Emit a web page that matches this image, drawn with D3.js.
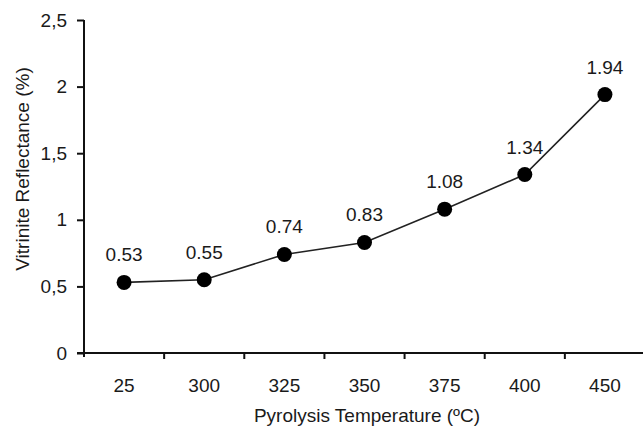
<!DOCTYPE html>
<html>
<head>
    <meta charset="utf-8" />
    <title>Vitrinite Reflectance</title>
    <style>
        body { margin: 0; background: #fff; }
        text { font-family: "Liberation Sans", Arial, sans-serif; fill: #1a1a1a; }
        .axis path, .axis line { stroke: #111; stroke-width: 2px; }
        .axis text { font-size: 19px; }
        .title { font-size: 19px; }
        .vlabel { font-size: 19px; }
    </style>
    <script src="https://cdn.jsdelivr.net/npm/d3@7/dist/d3.min.js"></script>
</head>
<body>
    <svg width="643" height="432"></svg>

    <script>
        var temps = ['25', '300', '325', '350', '375', '400', '450'];
        var reflectance = [0.53, 0.55, 0.74, 0.83, 1.08, 1.34, 1.94];
        var yTicks = [0, 0.5, 1, 1.5, 2, 2.5];

        var svg = d3.select('svg'),
            margin = { top: 20, right: -2, bottom: 79, left: 84 },
            width = +svg.attr('width') - margin.left - margin.right,
            height = +svg.attr('height') - margin.top - margin.bottom;

        var x = d3.scaleBand()
            .domain(temps)
            .range([0, width]);

        var y = d3.scaleLinear()
            .domain([0, 2.5])
            .range([height, 0]);

        var g = svg.append('g')
            .attr('transform', 'translate(' + margin.left + ',' + margin.top + ')');

        // y axis
        g.append('g')
            .attr('class', 'axis')
            .call(d3.axisLeft(y).tickValues(yTicks).tickSize(7).tickPadding(10)
                .tickFormat(function(d) { return String(d).replace('.', ','); }))
            .call(function(a) { a.select('.domain').attr('d', 'M0,' + (height + 4) + 'V0'); });

        // x axis: ticks sit between the categories
        var xAxis = g.append('g')
            .attr('class', 'axis')
            .attr('transform', 'translate(0,' + height + ')');
        xAxis.append('line')
            .attr('x1', -7).attr('x2', width);
        xAxis.selectAll('.sep')
            .data(temps.slice(1))
            .enter().append('line')
                .attr('class', 'sep')
                .attr('x1', function(d) { return x(d); })
                .attr('x2', function(d) { return x(d); })
                .attr('y1', 0).attr('y2', 6);
        xAxis.selectAll('text')
            .data(temps)
            .enter().append('text')
                .attr('x', function(d) { return x(d) + x.bandwidth() / 2; })
                .attr('y', 39)
                .attr('text-anchor', 'middle')
                .text(function(d) { return d; });

        var cx = function(d, i) { return x(temps[i]) + x.bandwidth() / 2; };

        var line = d3.line()
            .x(cx)
            .y(function(d) { return y(d); });

        g.append('path')
            .datum(reflectance)
            .attr('fill', 'none')
            .attr('stroke', '#222')
            .attr('stroke-width', 1.6)
            .attr('d', line);

        g.selectAll('.dot')
            .data(reflectance)
            .enter().append('circle')
                .attr('class', 'dot')
                .attr('cx', cx)
                .attr('cy', function(d) { return y(d); })
                .attr('r', 7.5)
                .attr('fill', '#000');

        g.selectAll('.vlabel')
            .data(reflectance)
            .enter().append('text')
                .attr('class', 'vlabel')
                .attr('x', cx)
                .attr('y', function(d) { return y(d) - 21; })
                .attr('text-anchor', 'middle')
                .text(function(d) { return d.toFixed(2); });

        // axis titles
        svg.append('text')
            .attr('class', 'title')
            .attr('x', 367)
            .attr('y', 422)
            .attr('text-anchor', 'middle')
            .text('Pyrolysis Temperature (ºC)');

        svg.append('text')
            .attr('class', 'title')
            .attr('transform', 'translate(29,' + 169 + ') rotate(-90)')
            .attr('text-anchor', 'middle')
            .text('Vitrinite Reflectance (%)');
    </script>
</body>
</html>
